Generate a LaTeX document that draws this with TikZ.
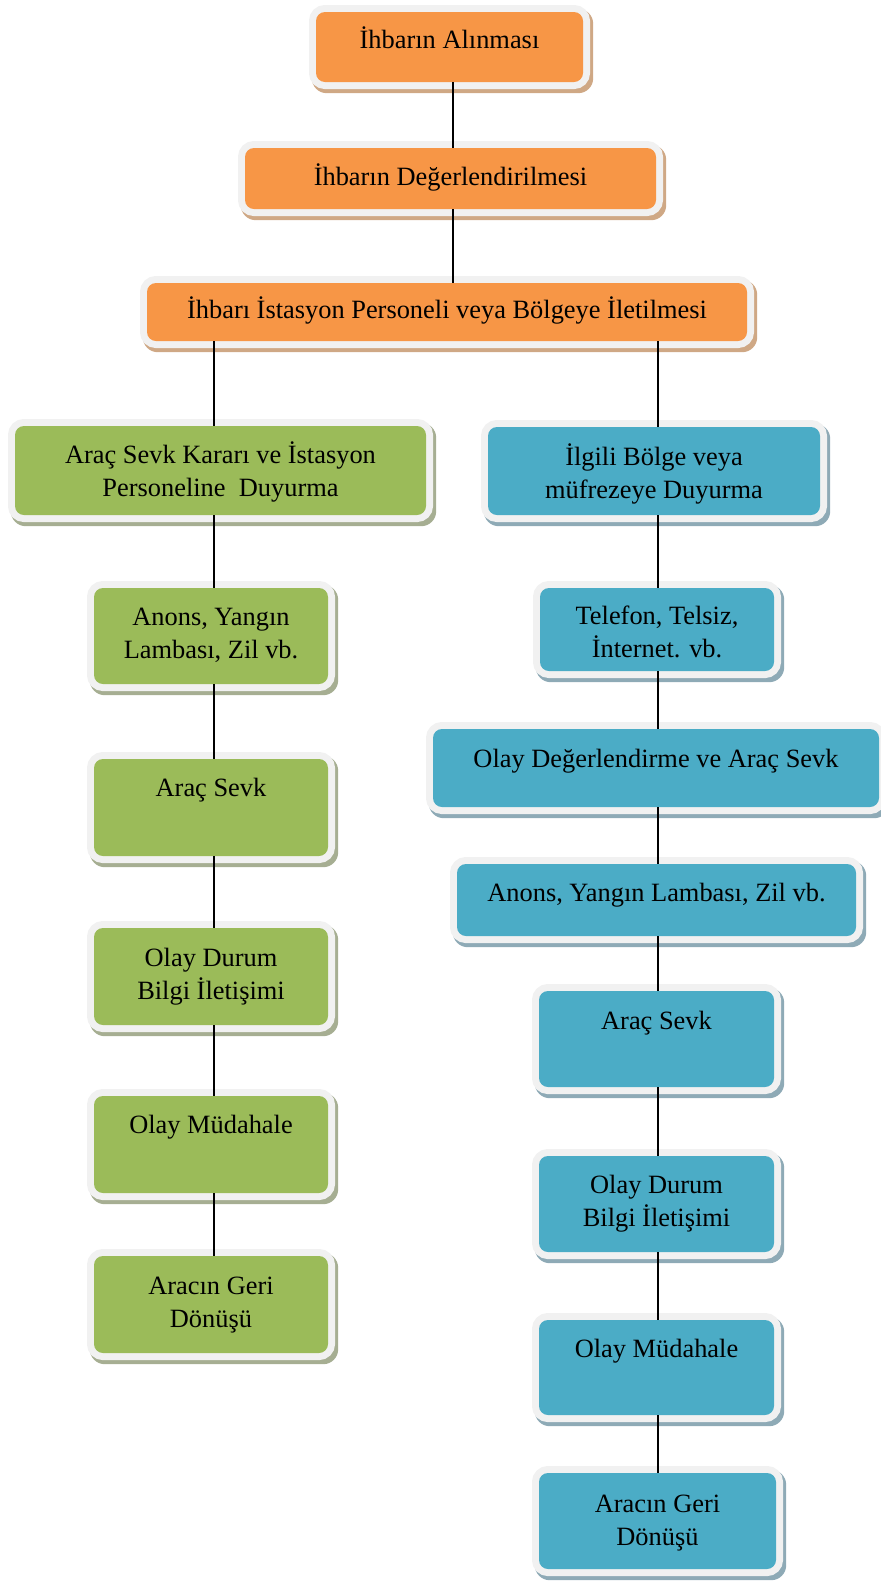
\documentclass[tikz,border=0pt]{standalone}
\usepackage{fontspec}
\setmainfont{Liberation Serif}
\usetikzlibrary{backgrounds}
\definecolor{boxO}{HTML}{F79646}
\definecolor{boxG}{HTML}{9BBB59}
\definecolor{boxB}{HTML}{4BACC6}
\definecolor{frameC}{HTML}{F1F1F1}
\definecolor{shO}{HTML}{CFA885}
\definecolor{shG}{HTML}{A6AE92}
\definecolor{shB}{HTML}{8EAAB6}
\newcommand\flowbx[8]{%
  \node[#6, minimum width={#4-#2}, minimum height={#5-#3}] (#1) at ({(#2+#4)/2},{-(#3+#5)/2}) {};
  \node[txt] (#1t) at ({(#2+#4)/2},{-(#7)-2}) {#8};}
\begin{document}
\begin{tikzpicture}[x=1pt,y=1pt,
  box/.style={rounded corners=9, inner sep=0, preaction={draw=frameC, line width=14}},
  obox/.style={box, fill=boxO},
  gbox/.style={box, fill=boxG},
  bbox/.style={box, fill=boxB},
  txt/.style={align=center, inner sep=0, font=\fontsize{26.4}{33}\selectfont},
  conn/.style={draw=black, line width=1.5}]
\useasboundingbox (0,0) rectangle (881,-1583);
% orange
\flowbx{A1}{316}{12}{583}{82}{obox}{40}{\strut İhbarın Alınması}
\flowbx{A2}{245}{148}{656}{209}{obox}{177}{\strut İhbarın Değerlendirilmesi}
\flowbx{A3}{147}{283}{747}{341}{obox}{310}{\strut İhbarı İstasyon Personeli veya Bölgeye İletilmesi}
% green
\flowbx{G1}{15}{426}{426}{515}{gbox}{471.5}{\strut Araç Sevk Kararı ve İstasyon\\\strut Personeline~ Duyurma}
\flowbx{G2}{94}{588}{328}{684}{gbox}{633}{\strut Anons, Yangın\\\strut Lambası, Zil vb.}
\flowbx{G3}{94}{759}{328}{856}{gbox}{788}{\strut Araç Sevk}
\flowbx{G4}{94}{928}{328}{1025}{gbox}{974.5}{\strut Olay Durum\\\strut Bilgi İletişimi}
\flowbx{G5}{94}{1096}{328}{1193}{gbox}{1125}{\strut Olay Müdahale}
\flowbx{G6}{94}{1256}{328}{1353}{gbox}{1302}{\strut Aracın Geri\\\strut Dönüşü}
% blue
\flowbx{B1}{488}{427}{820}{515}{bbox}{473}{\strut İlgili Bölge veya\\\strut müfrezeye Duyurma}
\flowbx{B2}{540}{588}{774}{671}{bbox}{632.5}{\strut Telefon, Telsiz,\\\strut İnternet. vb.}
\flowbx{B3}{433}{729}{879}{807}{bbox}{759}{\strut Olay Değerlendirme ve Araç Sevk}
\flowbx{B4}{457}{864}{856}{936}{bbox}{893}{\strut Anons, Yangın Lambası, Zil vb.}
\flowbx{B5}{539}{991}{774}{1087}{bbox}{1021}{\strut Araç Sevk}
\flowbx{B6}{539}{1156}{774}{1252}{bbox}{1201.5}{\strut Olay Durum\\\strut Bilgi İletişimi}
\flowbx{B7}{539}{1320}{774}{1415}{bbox}{1349}{\strut Olay Müdahale}
\flowbx{B8}{539}{1473}{776}{1569}{bbox}{1520}{\strut Aracın Geri\\\strut Dönüşü}
% shadows
\begin{scope}[on background layer]
\foreach \n/\c in {A1/shO,A2/shO,A3/shO,G1/shG,G2/shG,G3/shG,G4/shG,G5/shG,G6/shG,
  B1/shB,B2/shB,B3/shB,B4/shB,B5/shB,B6/shB,B7/shB,B8/shB}
  \fill[\c, rounded corners=15] ([shift={(-4,-11)}]\n.south west) rectangle ([shift={(10,3)}]\n.north east);
\end{scope}
% connectors
\coordinate (M) at (453,0);
\coordinate (L) at (214,0);
\coordinate (R) at (658,0);
\draw[conn] (A1.south -| M) -- (A2.north -| M);
\draw[conn] (A2.south -| M) -- (A3.north -| M);
\draw[conn] (A3.south -| L) -- (G1.north -| L);
\draw[conn] (A3.south -| R) -- (B1.north -| R);
\foreach \a/\b in {G1/G2,G2/G3,G3/G4,G4/G5,G5/G6}
  \draw[conn] (\a.south -| L) -- (\b.north -| L);
\foreach \a/\b in {B1/B2,B2/B3,B3/B4,B4/B5,B5/B6,B6/B7,B7/B8}
  \draw[conn] (\a.south -| R) -- (\b.north -| R);
\end{tikzpicture}
\end{document}
